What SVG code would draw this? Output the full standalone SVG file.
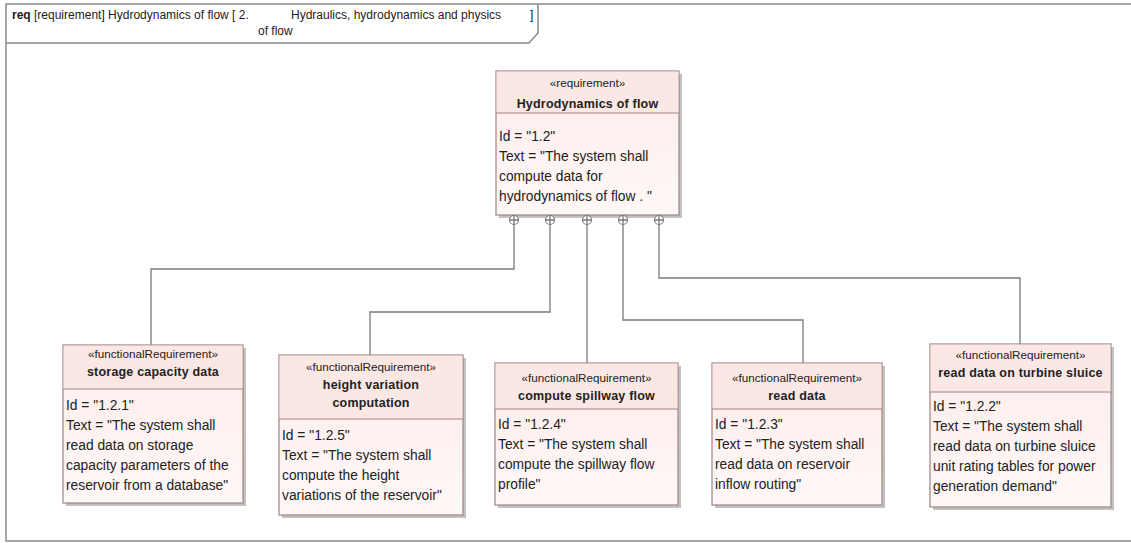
<svg xmlns="http://www.w3.org/2000/svg" width="1131" height="543" viewBox="0 0 1131 543">
  <style>
    .frame { fill: none; stroke: #8a8a8a; stroke-width: 1.5; }
    .tabtxt { font-family: "Liberation Sans", Arial, sans-serif; font-size: 12px; fill: #222; }
    .shadow { fill: #b3b3b3; opacity: 0.8; }
    .box { fill: url(#body); stroke: #a08484; stroke-width: 1.2; }
    .head { fill: #fbe8e5; stroke: none; }
    .div { stroke: #a08484; stroke-width: 1.2; }
    .st { font-family: "Liberation Sans", Arial, sans-serif; font-size: 11.7px; fill: #222; text-anchor: middle; }
    .nm { font-family: "Liberation Sans", Arial, sans-serif; font-size: 12.5px; font-weight: bold; fill: #222; text-anchor: middle; letter-spacing: 0.2px; }
    .bd { font-family: "Liberation Sans", Arial, sans-serif; font-size: 13.8px; fill: #222; }
    .conn { fill: none; stroke: #7a7a7a; stroke-width: 1.3; }
    .port { fill: #fff; stroke: #7a7a7a; stroke-width: 1.1; }
  </style>
  <defs>
    <linearGradient id="body" x1="0" y1="0" x2="0" y2="1">
      <stop offset="0" stop-color="#fcecea"/>
      <stop offset="1" stop-color="#fff8f7"/>
    </linearGradient>
  </defs>

  <rect width="1131" height="543" fill="#ffffff"/>

  <!-- diagram frame and its name tab -->
  <g id="frame">
    <path class="frame" d="M1131,4 H6 V541 H1131"/>
    <path class="frame" d="M6,43 H529 L538,33 V4"/>
    <text class="tabtxt" x="12" y="19"><tspan font-weight="bold">req</tspan> [requirement]  Hydrodynamics of flow [ 2.</text>
    <text class="tabtxt" x="291" y="19">Hydraulics, hydrodynamics and physics</text>
    <text class="tabtxt" x="530" y="19">]</text>
    <text class="tabtxt" x="258" y="35">of flow</text>
  </g>

  <!-- containment connectors -->
  <g id="connectors">
    <path class="conn" d="M514,225 V269 H151 V345"/>
    <path class="conn" d="M550,225 V312 H370 V355"/>
    <path class="conn" d="M587,225 V363"/>
    <path class="conn" d="M623,225 V320 H803 V363"/>
    <path class="conn" d="M659,225 V278 H1020 V344"/>
  </g>

  <!-- parent requirement -->
  <g id="req-1-2">
    <rect class="shadow" x="499" y="74" width="183" height="144"/>
    <rect class="box" x="496" y="71" width="183" height="144"/>
    <rect class="head" x="496.6" y="71.6" width="181.8" height="41.4"/>
    <line class="div" x1="496" y1="113" x2="679" y2="113"/>
    <text class="st" x="587.5" y="87">«requirement»</text>
    <text class="nm" x="587.5" y="108">Hydrodynamics of flow</text>
    <text class="bd" x="499" y="141">Id = "1.2"</text>
    <text class="bd" x="499" y="161">Text = "The system shall</text>
    <text class="bd" x="499" y="181">compute data for</text>
    <text class="bd" x="499" y="201">hydrodynamics of flow . "</text>
    <g id="ports">
      <circle class="port" cx="514" cy="220" r="4.5"/>
      <path class="conn" d="M509.5,220 H518.5 M514,215.5 V224.5"/>
      <circle class="port" cx="550" cy="220" r="4.5"/>
      <path class="conn" d="M545.5,220 H554.5 M550,215.5 V224.5"/>
      <circle class="port" cx="587" cy="220" r="4.5"/>
      <path class="conn" d="M582.5,220 H591.5 M587,215.5 V224.5"/>
      <circle class="port" cx="623" cy="220" r="4.5"/>
      <path class="conn" d="M618.5,220 H627.5 M623,215.5 V224.5"/>
      <circle class="port" cx="659" cy="220" r="4.5"/>
      <path class="conn" d="M654.5,220 H663.5 M659,215.5 V224.5"/>
    </g>
  </g>

  <!-- 1.2.1 -->
  <g id="req-1-2-1">
    <rect class="shadow" x="66" y="348" width="180" height="158"/>
    <rect class="box" x="63" y="345" width="180" height="158"/>
    <rect class="head" x="63.6" y="345.6" width="178.8" height="43.4"/>
    <line class="div" x1="63" y1="389" x2="243" y2="389"/>
    <text class="st" x="153" y="358">«functionalRequirement»</text>
    <text class="nm" x="153" y="376">storage capacity data</text>
    <text class="bd" x="66" y="410">Id = "1.2.1"</text>
    <text class="bd" x="66" y="430">Text = "The system shall</text>
    <text class="bd" x="66" y="450">read data on storage</text>
    <text class="bd" x="66" y="470">capacity parameters of the</text>
    <text class="bd" x="66" y="490">reservoir from a database"</text>
  </g>

  <!-- 1.2.5 -->
  <g id="req-1-2-5">
    <rect class="shadow" x="282" y="358" width="184" height="160"/>
    <rect class="box" x="279" y="355" width="184" height="160"/>
    <rect class="head" x="279.6" y="355.6" width="182.8" height="63.4"/>
    <line class="div" x1="279" y1="419" x2="463" y2="419"/>
    <text class="st" x="371" y="371">«functionalRequirement»</text>
    <text class="nm" x="371" y="389">height variation</text>
    <text class="nm" x="371" y="407">computation</text>
    <text class="bd" x="282" y="440">Id = "1.2.5"</text>
    <text class="bd" x="282" y="460">Text = "The system shall</text>
    <text class="bd" x="282" y="480">compute the height</text>
    <text class="bd" x="282" y="500">variations of the reservoir"</text>
  </g>

  <!-- 1.2.4 -->
  <g id="req-1-2-4">
    <rect class="shadow" x="498" y="366" width="183" height="142"/>
    <rect class="box" x="495" y="363" width="183" height="142"/>
    <rect class="head" x="495.6" y="363.6" width="181.8" height="45.4"/>
    <line class="div" x1="495" y1="409" x2="678" y2="409"/>
    <text class="st" x="586.5" y="382">«functionalRequirement»</text>
    <text class="nm" x="586.5" y="400">compute spillway flow</text>
    <text class="bd" x="498" y="429">Id = "1.2.4"</text>
    <text class="bd" x="498" y="449">Text = "The system shall</text>
    <text class="bd" x="498" y="469">compute the spillway flow</text>
    <text class="bd" x="498" y="489">profile"</text>
  </g>

  <!-- 1.2.3 -->
  <g id="req-1-2-3">
    <rect class="shadow" x="715" y="366" width="170" height="142"/>
    <rect class="box" x="712" y="363" width="170" height="142"/>
    <rect class="head" x="712.6" y="363.6" width="168.8" height="45.4"/>
    <line class="div" x1="712" y1="409" x2="882" y2="409"/>
    <text class="st" x="797" y="382">«functionalRequirement»</text>
    <text class="nm" x="797" y="400">read data</text>
    <text class="bd" x="715" y="429">Id = "1.2.3"</text>
    <text class="bd" x="715" y="449">Text = "The system shall</text>
    <text class="bd" x="715" y="469">read data on reservoir</text>
    <text class="bd" x="715" y="489">inflow routing"</text>
  </g>

  <!-- 1.2.2 -->
  <g id="req-1-2-2">
    <rect class="shadow" x="933" y="347" width="181" height="163"/>
    <rect class="box" x="930" y="344" width="181" height="163"/>
    <rect class="head" x="930.6" y="344.6" width="179.8" height="47.4"/>
    <line class="div" x1="930" y1="392" x2="1111" y2="392"/>
    <text class="st" x="1020.5" y="359">«functionalRequirement»</text>
    <text class="nm" x="1020.5" y="377">read data on turbine sluice</text>
    <text class="bd" x="933" y="411">Id = "1.2.2"</text>
    <text class="bd" x="933" y="431">Text = "The system shall</text>
    <text class="bd" x="933" y="451">read data on turbine sluice</text>
    <text class="bd" x="933" y="471">unit rating tables for power</text>
    <text class="bd" x="933" y="491">generation demand"</text>
  </g>
</svg>
